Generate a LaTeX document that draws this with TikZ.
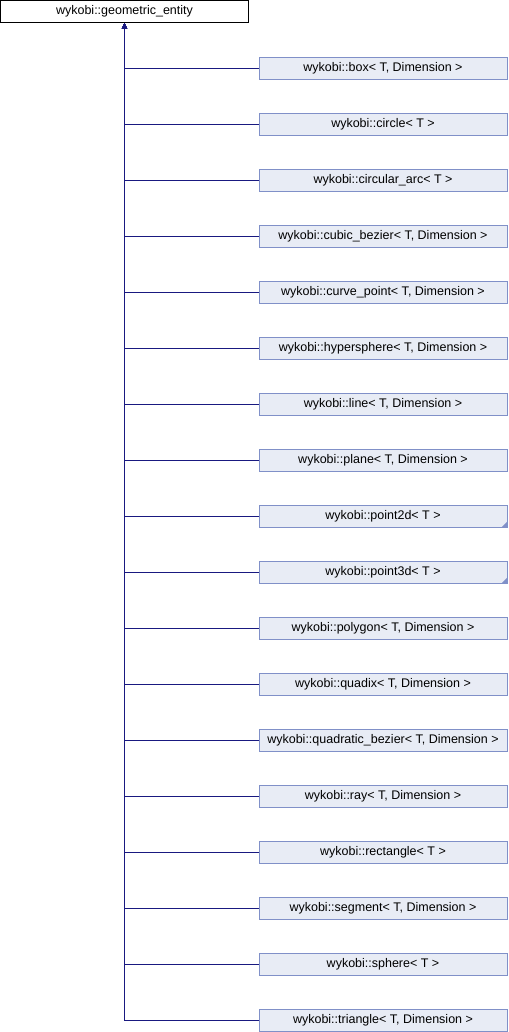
\documentclass[tikz,border=0pt]{standalone}
\usepackage{fontspec}
\setmainfont{Liberation Sans}
\usetikzlibrary{arrows.meta,positioning}
\definecolor{edgeblue}{RGB}{25,25,128}
\definecolor{boxfill}{RGB}{232,236,245}
\definecolor{boxline}{RGB}{128,144,200}

\begin{document}
\begin{tikzpicture}[
    x=1pt, y=1pt,
    >={Triangle[length=6pt,width=5pt]},
    font=\fontsize{12.5}{14}\selectfont,
    base/.style={rectangle, draw=black, line width=1pt, fill=white, align=center, minimum width=248pt, minimum height=22.5pt, inner sep=0pt, outer sep=0pt},
    derived/.style={rectangle, draw=boxline, line width=1pt, fill=boxfill, align=center, minimum width=248pt, minimum height=22.5pt, inner sep=0pt, outer sep=0pt},
    more/.style={path picture={\fill[boxline] (path picture bounding box.south east) -- ++(-6pt,0pt) -- ++(6pt,6pt) -- cycle;}},
    inherit/.style={->, draw=edgeblue, line width=1pt},
    node distance=33.5pt
  ]
    \useasboundingbox (0,0) rectangle (508,-1032);

    \node[base] (entity) at (124.5,-11.75) {wykobi::geometric\_entity};

    \node[derived] (bx) at (383,-68.5) {wykobi::box< T, Dimension >};
    \node[derived, below=of bx] (circ) {wykobi::circle< T >};
    \node[derived, below=of circ] (arc) {wykobi::circular\_arc< T >};
    \node[derived, below=of arc] (cubic) {wykobi::cubic\_bezier< T, Dimension >};
    \node[derived, below=of cubic] (cpt) {wykobi::curve\_point< T, Dimension >};
    \node[derived, below=of cpt] (hsph) {wykobi::hypersphere< T, Dimension >};
    \node[derived, below=of hsph] (ln) {wykobi::line< T, Dimension >};
    \node[derived, below=of ln] (pln) {wykobi::plane< T, Dimension >};
    \node[derived, more, below=of pln] (pt2) {wykobi::point2d< T >};
    \node[derived, more, below=of pt2] (pt3) {wykobi::point3d< T >};
    \node[derived, below=of pt3] (poly) {wykobi::polygon< T, Dimension >};
    \node[derived, below=of poly] (quad) {wykobi::quadix< T, Dimension >};
    \node[derived, below=of quad] (qbez) {wykobi::quadratic\_bezier< T, Dimension >};
    \node[derived, below=of qbez] (ray) {wykobi::ray< T, Dimension >};
    \node[derived, below=of ray] (rect) {wykobi::rectangle< T >};
    \node[derived, below=of rect] (seg) {wykobi::segment< T, Dimension >};
    \node[derived, below=of seg] (sph) {wykobi::sphere< T >};
    \node[derived, below=of sph] (tri) {wykobi::triangle< T, Dimension >};

    \draw[inherit] (bx) -| (entity);
    \draw[inherit] (circ) -| (entity);
    \draw[inherit] (arc) -| (entity);
    \draw[inherit] (cubic) -| (entity);
    \draw[inherit] (cpt) -| (entity);
    \draw[inherit] (hsph) -| (entity);
    \draw[inherit] (ln) -| (entity);
    \draw[inherit] (pln) -| (entity);
    \draw[inherit] (pt2) -| (entity);
    \draw[inherit] (pt3) -| (entity);
    \draw[inherit] (poly) -| (entity);
    \draw[inherit] (quad) -| (entity);
    \draw[inherit] (qbez) -| (entity);
    \draw[inherit] (ray) -| (entity);
    \draw[inherit] (rect) -| (entity);
    \draw[inherit] (seg) -| (entity);
    \draw[inherit] (sph) -| (entity);
    \draw[inherit] (tri) -| (entity);
  \end{tikzpicture}
\end{document}
